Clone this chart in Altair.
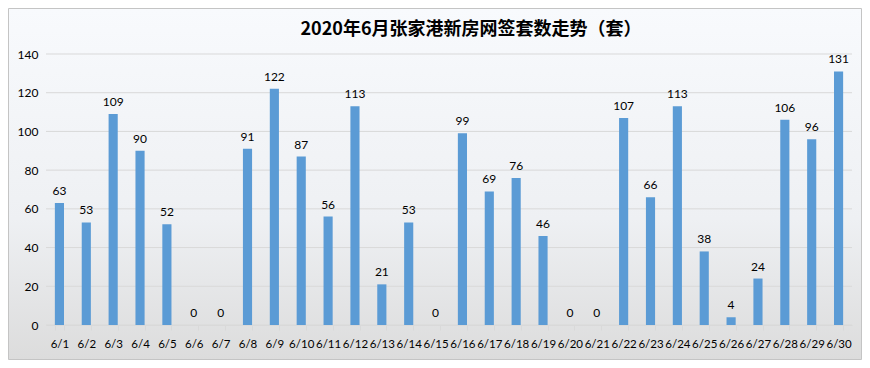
import altair as alt
import pandas as pd

days = [f"6/{d}" for d in range(1, 31)]
counts = [63, 53, 109, 90, 52, 0, 0, 91, 122, 87, 56, 113, 21, 53, 0,
          99, 69, 76, 46, 0, 0, 107, 66, 113, 38, 4, 24, 106, 96, 131]
y_ticks = [0, 20, 40, 60, 80, 100, 120, 140]
title_text = "2020年6月张家港新房网签套数走势（套）"

df = pd.DataFrame({"day": days, "count": counts})
grid_df = pd.DataFrame({"count": y_ticks})

W, H = 806, 271
PL, PT, PR, PB = 38, 46, 10, 35

xaxis = alt.Axis(labelAngle=0, labelFont="Lato", labelFontSize=11.5,
                 labelColor="#000000", labelPadding=8, labelOverlap=False,
                 domainColor="#d9d9d9", tickColor="#d9d9d9",
                 tickSize=5, tickBand="extent", zindex=1)
yaxis = alt.Axis(values=y_ticks, grid=False, domain=False, ticks=False,
                 labelFont="Lato", labelFontSize=12, labelColor="#000000",
                 labelPadding=8, labelOverlap=False, zindex=1)
xscale = alt.Scale(paddingInner=0.66, paddingOuter=0.33)
yscale = alt.Scale(domain=[0, 140])

bg = alt.Chart(alt.Data(values=[{}])).mark_rect(
    fill=alt.Gradient(gradient="linear",
                      stops=[alt.GradientStop(color="#f8fafd", offset=0),
                             alt.GradientStop(color="#eef0f3", offset=0.6),
                             alt.GradientStop(color="#dcdcdc", offset=1)],
                      x1=0, x2=0, y1=0, y2=1),
    stroke="#c4c4c4", strokeWidth=1
).encode(x=alt.value(-PL + 0.5), x2=alt.value(W + PR - 0.5),
         y=alt.value(-PT + 0.5), y2=alt.value(H + PB - 0.5))

grid = alt.Chart(grid_df).mark_rule(color="#d9d9d9", strokeWidth=1).encode(
    y=alt.Y("count:Q", scale=yscale, axis=yaxis, title=None),
    x=alt.value(0), x2=alt.value(W))

bars = alt.Chart(df).mark_bar(color="#5b9bd5").encode(
    x=alt.X("day:N", sort=days, title=None, scale=xscale, axis=xaxis),
    y=alt.Y("count:Q", scale=yscale, axis=yaxis, title=None))

labels = alt.Chart(df).mark_text(baseline="bottom", dy=-5, font="Lato",
                                 fontSize=12, color="#000000").encode(
    x=alt.X("day:N", sort=days, title=None, scale=xscale, axis=xaxis),
    y=alt.Y("count:Q", scale=yscale, axis=yaxis, title=None),
    text="count:Q")

chart = alt.layer(bg, grid, bars, labels).properties(
    width=W, height=H,
    autosize=alt.AutoSizeParams(type="none"),
    padding={"left": PL, "top": PT, "right": PR, "bottom": PB},
    title=alt.TitleParams(title_text, anchor="middle", dx=22, offset=-31,
                          font="Noto Sans CJK SC", fontSize=18,
                          fontWeight="bold", color="#000000")
).configure_view(stroke=None).configure(background="white")

chart.save("out.html", embed_options={"renderer": "svg", "actions": False})
